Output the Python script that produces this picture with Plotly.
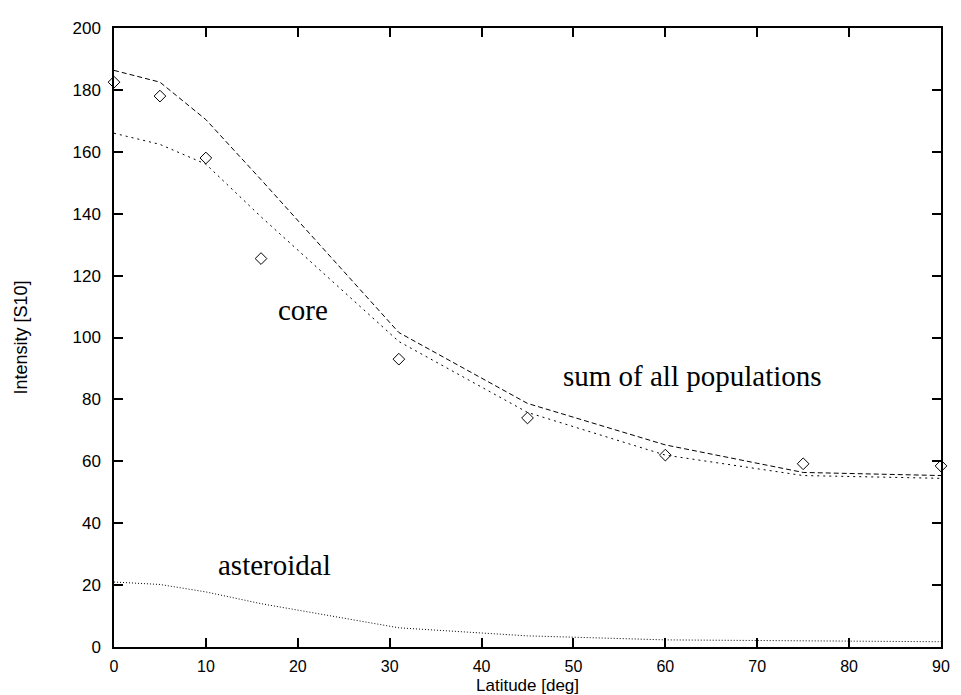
import plotly.graph_objects as go

# Observed data (diamonds)
obs_lat = [0, 5, 10, 16, 31, 45, 60, 75, 90]
obs_int = [182.5, 178, 158, 125.5, 93, 74, 62, 59.2, 58.5]

# Model curves
model_lat = [0, 5, 10, 16, 31, 45, 60, 75, 90]
sum_all = [186.3, 182.5, 170.4, 151, 101.6, 78.7, 65.3, 56.4, 55.4]
core = [166, 162.4, 156, 139, 98.7, 75.8, 62, 55.4, 54.5]
asteroidal = [21, 20.2, 17.8, 14, 6.2, 3.6, 2.3, 1.9, 1.7]

x_ticks = [0, 10, 20, 30, 40, 50, 60, 70, 80, 90]
y_ticks = [0, 20, 40, 60, 80, 100, 120, 140, 160, 180, 200]

fig = go.Figure()
fig.add_trace(go.Scatter(x=model_lat, y=sum_all, mode="lines", name="sum of all populations",
                         line=dict(color="black", width=1, dash="5px,3px")))
fig.add_trace(go.Scatter(x=model_lat, y=core, mode="lines", name="core",
                         line=dict(color="black", width=1, dash="2px,4px")))
fig.add_trace(go.Scatter(x=model_lat, y=asteroidal, mode="lines", name="asteroidal",
                         line=dict(color="black", width=1, dash="1px,2px")))
fig.add_trace(go.Scatter(x=obs_lat, y=obs_int, mode="markers", name="data", cliponaxis=False,
                         marker=dict(symbol="diamond-open", size=9, color="black",
                                     line=dict(color="black", width=1))))

serif = dict(family="Liberation Serif, Times New Roman, serif", size=29, color="black")
fig.add_annotation(x=20.6, y=109, text="core", showarrow=False, font=serif,
                   xanchor="center", yanchor="middle")
fig.add_annotation(x=63.0, y=87.5, text="sum of all populations", showarrow=False, font=serif,
                   xanchor="center", yanchor="middle")
fig.add_annotation(x=17.5, y=26.5, text="asteroidal", showarrow=False, font=serif,
                   xanchor="center", yanchor="middle")

sans = dict(family="Liberation Sans, Arial, sans-serif", size=16, color="black")
# axis titles
fig.add_annotation(x=0.5, y=0, xref="paper", yref="paper", text="Latitude [deg]",
                   showarrow=False, font=dict(sans, size=17), xanchor="center",
                   yanchor="top", yshift=-27)
fig.add_annotation(x=0, y=0.5, xref="paper", yref="paper", text="Intensity [S10]",
                   showarrow=False, font=dict(sans, size=18), textangle=-90,
                   xanchor="center", yanchor="middle", xshift=-94)

axis_common = dict(showgrid=False, zeroline=False, showline=True, linecolor="black",
                   linewidth=1.5, mirror="ticks", ticks="inside", ticklen=9,
                   tickwidth=1.5, tickcolor="black", tickfont=dict(sans, size=17))

# The page body has an 8px default margin, so the figure is sized/margined
# so that the plot area lands at page pixels x 114..949, y 19..647.
fig.update_layout(
    width=953, height=687,
    margin=dict(l=106, r=12, t=11, b=48),
    paper_bgcolor="white", plot_bgcolor="white",
    showlegend=False,
    xaxis=dict(range=[0, 90], tickvals=x_ticks, ticklabelstandoff=4, **axis_common),
    yaxis=dict(range=[0, 200], tickvals=y_ticks, ticklabelstandoff=8, **axis_common),
)
fig.update_xaxes(tickfont=dict(sans, size=16))

fig.write_html("out.html")
